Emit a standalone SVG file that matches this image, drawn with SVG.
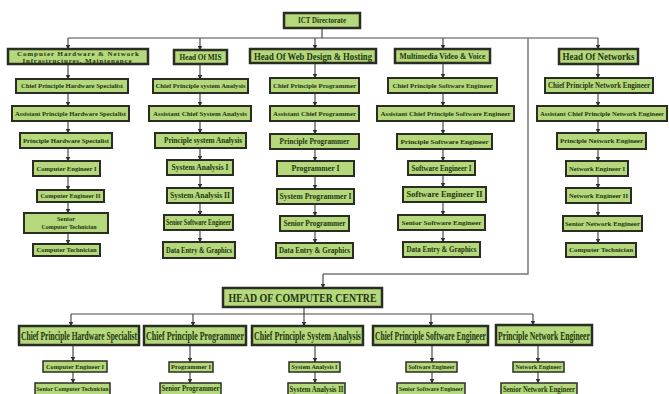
<svg xmlns="http://www.w3.org/2000/svg" width="669" height="394" viewBox="0 0 669 394">
<style>
rect{fill:#b5d87c;stroke:#2a2e22;stroke-width:2}
.h rect{stroke-width:2.5}
.s rect{stroke-width:1.5}
text{font-family:"Liberation Serif","Times New Roman",serif;font-weight:bold;fill:#22360f;text-anchor:middle}
.f6{font-size:6.5px}.f7{font-size:7.5px}.f8{font-size:8px}.f10{font-size:10px}.f12{font-size:12.5px}.f13{font-size:13px}
#conn path{fill:none;stroke:#4a4a4a;stroke-width:1.2}
#conn .a{marker-end:url(#ah)}
</style>
<defs>
<marker id="ah" markerWidth="5" markerHeight="5" refX="4.5" refY="2.5" orient="auto" markerUnits="userSpaceOnUse"><path d="M0,0 L5,2.5 L0,5 z" fill="#333"/></marker>
</defs>
<rect x="0" y="0" width="669" height="394" style="fill:#fff;stroke:none"/>
<g id="conn">
<path d="M322,28 V38 M68,38 H598"/>
<path class="a" d="M68,38 V49"/><path class="a" d="M200,38 V50"/><path class="a" d="M315,38 V49"/><path class="a" d="M443,38 V49"/><path class="a" d="M598,38 V49"/>
<path d="M528,38 V274 H323" style="stroke:#777;stroke-width:1.5"/>
<path class="a" d="M323,274 V288"/>
<path class="a" d="M68,64 V79"/><path class="a" d="M68,93 V106"/><path class="a" d="M68,121 V133"/><path class="a" d="M68,148 V161"/><path class="a" d="M68,176 V190"/><path class="a" d="M68,202 V213"/><path class="a" d="M68,233 V244"/>
<path class="a" d="M200,64 V79"/><path class="a" d="M200,93 V106"/><path class="a" d="M200,121 V133"/><path class="a" d="M200,148 V160"/><path class="a" d="M200,175 V188"/><path class="a" d="M200,203 V215"/><path class="a" d="M200,230 V242"/>
<path class="a" d="M315,63 V78"/><path class="a" d="M315,93 V106"/><path class="a" d="M315,121 V134"/><path class="a" d="M315,149 V161"/><path class="a" d="M315,176 V189"/><path class="a" d="M315,204 V216"/><path class="a" d="M315,231 V243"/>
<path class="a" d="M443,63 V78"/><path class="a" d="M443,93 V106"/><path class="a" d="M443,121 V134"/><path class="a" d="M443,149 V161"/><path class="a" d="M443,175 V187"/><path class="a" d="M443,202 V215"/><path class="a" d="M443,230 V242"/>
<path class="a" d="M598,64 V78"/><path class="a" d="M598,93 V106"/><path class="a" d="M598,121 V133"/><path class="a" d="M598,149 V161"/><path class="a" d="M598,176 V188"/><path class="a" d="M598,203 V216"/><path class="a" d="M598,231 V243"/>
<path d="M304,307 V314 M71,314 H533"/>
<path class="a" d="M71,314 V326"/><path class="a" d="M193,314 V326"/><path class="a" d="M304,314 V326"/><path class="a" d="M431,314 V326"/><path class="a" d="M533,314 V325"/>
<path class="a" d="M73,345 V361"/><path class="a" d="M73,372 V383"/>
<path class="a" d="M190,345 V362"/><path class="a" d="M190,372 V383"/>
<path class="a" d="M315,345 V362"/><path class="a" d="M315,372 V383"/>
<path class="a" d="M432,345 V362"/><path class="a" d="M432,372 V383"/>
<path class="a" d="M538,345 V362"/><path class="a" d="M538,372 V383"/>
</g>

<g id="ict" class="h"><rect x="284" y="13" width="76" height="15"/><text class="f7" x="322" y="23" textLength="48" lengthAdjust="spacingAndGlyphs">ICT Directorate</text></g>

<g id="head-hw" class="h"><rect x="8" y="49" width="140" height="15"/><text x="78" y="56" style="font-size:7px" textLength="122" lengthAdjust="spacing">Computer Hardware &amp; Network</text><text x="77" y="62.7" style="font-size:7px" textLength="109" lengthAdjust="spacing">Infrastructures, Maintenance</text></g>
<g id="head-mis" class="h"><rect x="174" y="50" width="53" height="14"/><text class="f8" x="200.5" y="59.8" textLength="42" lengthAdjust="spacingAndGlyphs">Head Of MIS</text></g>
<g id="head-web" class="h"><rect x="250" y="49" width="126" height="14"/><text class="f10" x="313" y="59.5" textLength="118" lengthAdjust="spacingAndGlyphs">Head Of Web Design &amp; Hosting</text></g>
<g id="head-mm" class="h"><rect x="395" y="49" width="95" height="14"/><text class="f8" x="442.5" y="58.8" textLength="86" lengthAdjust="spacingAndGlyphs">Multimedia Video &amp; Voice</text></g>
<g id="head-net" class="h"><rect x="559" y="49" width="79" height="15"/><text class="f10" x="598.5" y="60" textLength="72" lengthAdjust="spacingAndGlyphs">Head Of Networks</text></g>

<g id="c1-1"><rect x="16" y="79" width="112" height="14"/><text class="f6" x="72" y="88.3" textLength="102" lengthAdjust="spacingAndGlyphs">Chief Principle Hardware Specialist</text></g>
<g id="c1-2"><rect x="12" y="106" width="117" height="15"/><text class="f6" x="70.5" y="115.8" textLength="111" lengthAdjust="spacingAndGlyphs">Assistant Principle Hardware Specialist</text></g>
<g id="c1-3"><rect x="20" y="133" width="92" height="15"/><text class="f6" x="66" y="142.8" textLength="86" lengthAdjust="spacingAndGlyphs">Principle Hardware Specialist</text></g>
<g id="c1-4"><rect x="33" y="161" width="67" height="15"/><text class="f6" x="66.5" y="170.8" textLength="60" lengthAdjust="spacingAndGlyphs">Computer Engineer I</text></g>
<g id="c1-5"><rect x="37" y="190" width="67" height="12"/><text class="f6" x="70.5" y="198.3" textLength="60" lengthAdjust="spacingAndGlyphs">Computer Engineer II</text></g>
<g id="c1-6"><rect x="24" y="213" width="84" height="20"/><text class="f6" x="66" y="221.3">Senior</text><text class="f6" x="69" y="229.3" textLength="55" lengthAdjust="spacingAndGlyphs">Computer Technician</text></g>
<g id="c1-7"><rect x="33" y="244" width="67" height="12"/><text class="f6" x="66.5" y="252.3" textLength="60" lengthAdjust="spacingAndGlyphs">Computer Technician</text></g>

<g id="c2-1"><rect x="153" y="79" width="95" height="14"/><text class="f6" x="200.5" y="88.3" textLength="90" lengthAdjust="spacingAndGlyphs">Chief Principle system Analysis</text></g>
<g id="c2-2"><rect x="149" y="106" width="102" height="15"/><text class="f6" x="200" y="115.8" textLength="94" lengthAdjust="spacingAndGlyphs">Assistant Chief System Analysis</text></g>
<g id="c2-3"><rect x="155" y="133" width="91" height="15"/><text class="f7" x="203" y="143.2" textLength="78" lengthAdjust="spacingAndGlyphs">Principle system Analysis</text></g>
<g id="c2-4"><rect x="167" y="160" width="66" height="15"/><text class="f7" x="200" y="170.2" textLength="57" lengthAdjust="spacingAndGlyphs">System Analysis I</text></g>
<g id="c2-5"><rect x="167" y="188" width="66" height="15"/><text class="f7" x="200" y="198.2" textLength="60" lengthAdjust="spacingAndGlyphs">System Analysis II</text></g>
<g id="c2-6"><rect x="164" y="215" width="69" height="15"/><text class="f7" x="198.5" y="225.2" textLength="65" lengthAdjust="spacingAndGlyphs">Senior Software Engineer</text></g>
<g id="c2-7"><rect x="163" y="242" width="72" height="16"/><text class="f7" x="199" y="252.7" textLength="66" lengthAdjust="spacingAndGlyphs">Data Entry &amp; Graphics</text></g>

<g id="c3-1"><rect x="270" y="78" width="89" height="15"/><text class="f6" x="314.5" y="87.8" textLength="83" lengthAdjust="spacingAndGlyphs">Chief Principle Programmer</text></g>
<g id="c3-2"><rect x="270" y="106" width="89" height="15"/><text class="f6" x="314.5" y="115.8" textLength="83" lengthAdjust="spacingAndGlyphs">Assistant Chief Programmer</text></g>
<g id="c3-3"><rect x="270" y="134" width="89" height="15"/><text class="f8" x="314.5" y="144.3" textLength="70" lengthAdjust="spacingAndGlyphs">Principle Programmer</text></g>
<g id="c3-4"><rect x="277" y="161" width="77" height="15"/><text class="f8" x="315.5" y="171.3" textLength="48" lengthAdjust="spacingAndGlyphs">Programmer I</text></g>
<g id="c3-5"><rect x="277" y="189" width="77" height="15"/><text class="f7" x="315.5" y="199.2" textLength="72" lengthAdjust="spacingAndGlyphs">System Programmer I</text></g>
<g id="c3-6"><rect x="280" y="216" width="69" height="15"/><text class="f7" x="314.5" y="226.2" textLength="62" lengthAdjust="spacingAndGlyphs">Senior Programmer</text></g>
<g id="c3-7"><rect x="276" y="243" width="77" height="15"/><text class="f7" x="314.5" y="253.2" textLength="71" lengthAdjust="spacingAndGlyphs">Data Entry &amp; Graphics</text></g>

<g id="c4-1"><rect x="388" y="78" width="109" height="15"/><text class="f6" x="442.5" y="87.8" textLength="100" lengthAdjust="spacingAndGlyphs">Chief Principle Software Engineer</text></g>
<g id="c4-2"><rect x="377" y="106" width="137" height="15"/><text class="f6" x="445.5" y="115.8" textLength="130" lengthAdjust="spacingAndGlyphs">Assistant Chief Principle Software Engineer</text></g>
<g id="c4-3"><rect x="397" y="134" width="95" height="15"/><text class="f6" x="444.5" y="143.8" textLength="88" lengthAdjust="spacingAndGlyphs">Principle Software Engineer</text></g>
<g id="c4-4"><rect x="408" y="161" width="67" height="14"/><text class="f7" x="441.5" y="170.7" textLength="60" lengthAdjust="spacingAndGlyphs">Software Engineer I</text></g>
<g id="c4-5"><rect x="403" y="187" width="83" height="15"/><text class="f7" x="444.5" y="197.2" textLength="76" lengthAdjust="spacingAndGlyphs">Software Engineer II</text></g>
<g id="c4-6"><rect x="398" y="215" width="87" height="15"/><text class="f6" x="441.5" y="224.8" textLength="80" lengthAdjust="spacingAndGlyphs">Senior Software Engineer</text></g>
<g id="c4-7"><rect x="403" y="242" width="77" height="15"/><text class="f7" x="441.5" y="252.2" textLength="70" lengthAdjust="spacingAndGlyphs">Data Entry &amp; Graphics</text></g>

<g id="c5-1"><rect x="545" y="78" width="108" height="15"/><text class="f8" x="599" y="88.3" textLength="102" lengthAdjust="spacingAndGlyphs">Chief Principle Network Engineer</text></g>
<g id="c5-2"><rect x="537" y="106" width="130" height="15"/><text class="f6" x="602" y="115.8" textLength="124" lengthAdjust="spacingAndGlyphs">Assistant Chief Principle Network Engineer</text></g>
<g id="c5-3"><rect x="557" y="133" width="89" height="16"/><text class="f6" x="601.5" y="143.3" textLength="83" lengthAdjust="spacingAndGlyphs">Principle Network Engineer</text></g>
<g id="c5-4"><rect x="566" y="161" width="62" height="15"/><text class="f6" x="597" y="170.8" textLength="56" lengthAdjust="spacingAndGlyphs">Network Engineer I</text></g>
<g id="c5-5"><rect x="566" y="188" width="65" height="15"/><text class="f6" x="598.5" y="197.8" textLength="59" lengthAdjust="spacingAndGlyphs">Network Engineer II</text></g>
<g id="c5-6"><rect x="563" y="216" width="79" height="15"/><text class="f6" x="602.5" y="225.8" textLength="75" lengthAdjust="spacingAndGlyphs">Senior Network Engineer</text></g>
<g id="c5-7"><rect x="566" y="243" width="70" height="14"/><text class="f6" x="601" y="252.3" textLength="64" lengthAdjust="spacingAndGlyphs">Computer Technician</text></g>

<g id="hocc" class="h"><rect x="223" y="288" width="159" height="19"/><text class="f13" x="302.5" y="302" textLength="148" lengthAdjust="spacingAndGlyphs">HEAD OF COMPUTER CENTRE</text></g>

<g id="b1" class="h"><rect x="19" y="326" width="120" height="19"/><text class="f12" transform="translate(79,340) scale(0.58,1)" x="0" y="0" textLength="200" lengthAdjust="spacingAndGlyphs">Chief Principle Hardware Specialist</text></g>
<g id="b2" class="h"><rect x="144" y="326" width="102" height="19"/><text class="f12" transform="translate(195,340) scale(0.64,1)" x="0" y="0" textLength="153" lengthAdjust="spacingAndGlyphs">Chief Principle Programmer</text></g>
<g id="b3" class="h"><rect x="252" y="326" width="111" height="19"/><text class="f12" transform="translate(307.5,340) scale(0.6,1)" x="0" y="0" textLength="178" lengthAdjust="spacingAndGlyphs">Chief Principle System Analysis</text></g>
<g id="b4" class="h"><rect x="373" y="326" width="115" height="19"/><text class="f12" transform="translate(430.5,340) scale(0.58,1)" x="0" y="0" textLength="191" lengthAdjust="spacingAndGlyphs">Chief Principle Software Engineer</text></g>
<g id="b5" class="h"><rect x="496" y="325" width="96" height="20"/><text class="f12" transform="translate(544,339.5) scale(0.6,1)" x="0" y="0" textLength="153" lengthAdjust="spacingAndGlyphs">Principle Network Engineer</text></g>

<g id="b1-1" class="s"><rect x="43" y="361" width="64" height="11"/><text class="f6" x="75" y="368.8" textLength="58" lengthAdjust="spacingAndGlyphs">Computer Engineer I</text></g>
<g id="b1-2" class="s"><rect x="35" y="383" width="75" height="14"/><text class="f6" x="72.5" y="390.8" textLength="72" lengthAdjust="spacingAndGlyphs">Senior Computer Technician</text></g>
<g id="b2-1" class="s"><rect x="169" y="362" width="44" height="10"/><text class="f6" x="191" y="369.3" textLength="40" lengthAdjust="spacingAndGlyphs">Programmer I</text></g>
<g id="b2-2" class="s"><rect x="160" y="383" width="61" height="14"/><text class="f7" x="190.5" y="391.3" textLength="58" lengthAdjust="spacingAndGlyphs">Senior Programmer</text></g>
<g id="b3-1" class="s"><rect x="289" y="362" width="51" height="10"/><text class="f6" x="314.5" y="369.3" textLength="46" lengthAdjust="spacingAndGlyphs">System Analysis I</text></g>
<g id="b3-2" class="s"><rect x="288" y="383" width="57" height="14"/><text class="f8" x="316.5" y="391.5" textLength="54" lengthAdjust="spacingAndGlyphs">System Analysis II</text></g>
<g id="b4-1" class="s"><rect x="406" y="362" width="51" height="10"/><text class="f6" x="431.5" y="369.3" textLength="46" lengthAdjust="spacingAndGlyphs">Software Engineer</text></g>
<g id="b4-2" class="s"><rect x="397" y="383" width="68" height="14"/><text class="f6" x="431" y="390.8" textLength="64" lengthAdjust="spacingAndGlyphs">Senior Software Engineer</text></g>
<g id="b5-1" class="s"><rect x="513" y="362" width="51" height="10"/><text class="f6" x="538.5" y="369.3" textLength="46" lengthAdjust="spacingAndGlyphs">Network Engineer</text></g>
<g id="b5-2" class="s"><rect x="501" y="383" width="76" height="14"/><text class="f8" x="539" y="391.5" textLength="72" lengthAdjust="spacingAndGlyphs">Senior Network Engineer</text></g>
</svg>
